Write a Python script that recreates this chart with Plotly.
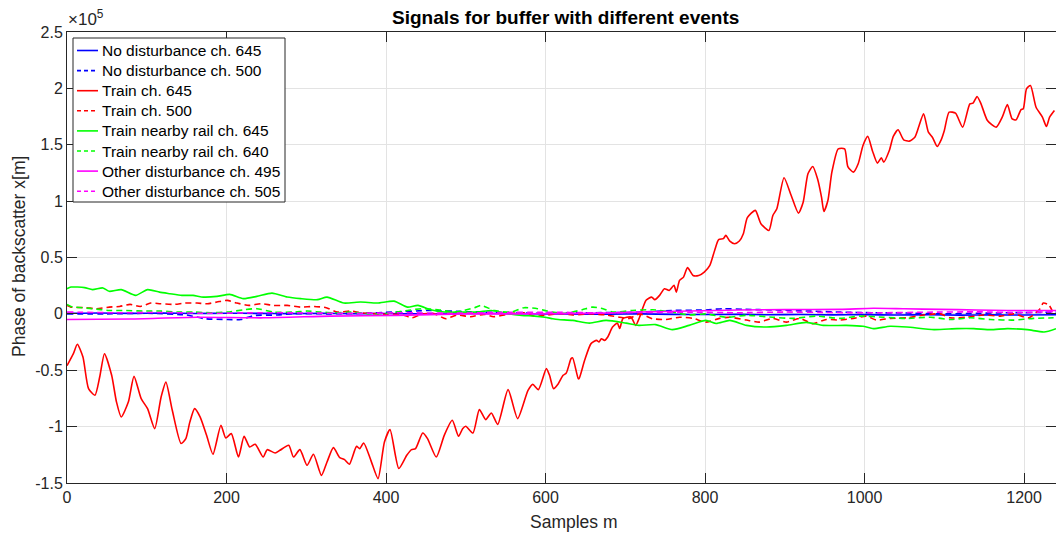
import plotly.graph_objects as go

# ---- data (values in units of 1e5) ----
nd645 = [(0, 0.005), (40, 0.008), (80, 0.004), (120, 0.007), (160, 0.003), (200, 0.006), (240, 0.004),
         (280, 0.002), (320, 0.005), (360, 0.001), (400, 0.003), (440, 0.0), (480, 0.002), (520, 0.004),
         (560, 0.001), (600, 0.0), (640, -0.003), (680, -0.002), (720, 0.0), (760, -0.004), (800, -0.006),
         (840, -0.004), (880, -0.008), (920, -0.006), (960, -0.009), (1000, -0.007), (1040, -0.01),
         (1080, -0.008), (1120, -0.011), (1160, -0.009), (1200, -0.01), (1240, -0.008)]

nd500 = [(0, 0.0), (50, 0.0), (100, 0.005), (150, -0.01), (173, -0.043), (201, -0.05), (218, -0.05),
         (234, -0.015), (264, -0.01), (285, 0.002), (330, 0.0), (370, 0.005), (410, 0.016), (452, 0.03),
         (500, 0.02), (550, 0.01), (600, 0.005), (650, 0.01), (700, 0.012), (718, 0.016), (759, 0.03),
         (801, 0.035), (822, 0.046), (850, 0.04), (885, 0.035), (930, 0.025), (969, 0.016), (1011, 0.01),
         (1050, 0.008), (1095, 0.0), (1140, 0.005), (1179, 0.01), (1210, 0.012), (1240, 0.016)]

train645 = [(0, -0.46), (8, -0.353), (13, -0.27), (20, -0.383), (27, -0.663), (35, -0.722), (41, -0.56),
            (47, -0.353), (56, -0.545), (62, -0.78), (68, -0.915), (77, -0.78), (84, -0.554), (93, -0.752),
            (101, -0.84), (110, -1.018), (118, -0.737), (124, -0.605), (132, -0.855), (143, -1.15),
            (149, -1.106), (154, -0.96), (160, -0.84), (167, -0.915), (175, -1.077), (183, -1.245),
            (193, -0.988), (199, -1.1), (206, -1.062), (215, -1.27), (222, -1.086), (229, -1.18),
            (236, -1.157), (246, -1.27), (251, -1.204), (261, -1.234), (267, -1.21), (278, -1.166),
            (284, -1.27), (292, -1.204), (301, -1.343), (309, -1.245), (319, -1.432), (326, -1.314),
            (334, -1.186), (342, -1.275), (348, -1.293), (354, -1.334), (363, -1.175), (367, -1.195),
            (372, -1.145), (381, -1.299), (390, -1.461), (398, -1.136), (405, -1.027), (416, -1.372),
            (426, -1.254), (432, -1.204), (437, -1.195), (446, -1.057), (452, -1.106), (463, -1.27),
            (473, -1.077), (483, -0.944), (491, -1.086), (496, -1.018), (500, -0.997), (509, -1.057),
            (517, -0.849), (525, -0.938), (532, -0.879), (540, -0.98), (553, -0.672), (565, -0.929),
            (578, -0.678), (584, -0.625), (591, -0.672), (601, -0.486), (605, -0.545), (610, -0.663),
            (616, -0.619), (622, -0.545), (626, -0.525), (632, -0.397), (634, -0.39), (641, -0.575),
            (642, -0.575), (649, -0.412), (657, -0.264), (664, -0.235), (667, -0.25), (670, -0.22),
            (674, -0.235), (678, -0.205), (684, -0.117), (690, -0.082), (693, -0.13), (697, -0.043),
            (707, -0.028), (713, -0.102), (718, -0.028), (726, 0.12), (733, 0.149), (737, 0.126),
            (743, 0.164), (749, 0.223), (755, 0.208), (761, 0.253), (764, 0.193), (768, 0.297),
            (773, 0.326), (778, 0.41), (785, 0.341), (792, 0.341), (799, 0.371), (806, 0.43),
            (812, 0.563), (817, 0.658), (823, 0.667), (826, 0.696), (831, 0.646), (837, 0.622),
            (843, 0.646), (848, 0.711), (853, 0.853), (863, 0.918), (870, 0.8), (880, 0.74),
            (885, 0.873), (890, 0.933), (899, 1.207), (908, 1.05), (917, 0.894), (923, 0.99),
            (929, 1.243), (935, 1.307), (941, 1.198), (946, 1.035), (949, 0.909), (954, 1.006),
            (959, 1.257), (967, 1.464), (975, 1.464), (979, 1.307), (986, 1.257), (992, 1.331),
            (998, 1.494), (1004, 1.574), (1010, 1.443), (1016, 1.337), (1021, 1.385), (1024, 1.346),
            (1031, 1.449), (1036, 1.574), (1042, 1.633), (1049, 1.544), (1056, 1.532), (1063, 1.567),
            (1068, 1.662), (1074, 1.775), (1080, 1.612), (1085, 1.567), (1091, 1.485), (1096, 1.544),
            (1100, 1.627), (1106, 1.789), (1114, 1.78), (1123, 1.656), (1132, 1.863), (1136, 1.869),
            (1141, 1.928), (1146, 1.863), (1154, 1.715), (1165, 1.656), (1173, 1.751), (1179, 1.857),
            (1185, 1.73), (1190, 1.721), (1196, 1.81), (1199, 1.819), (1203, 1.996), (1208, 2.026),
            (1215, 1.833), (1223, 1.745), (1228, 1.662), (1232, 1.745), (1238, 1.804)]

train500 = [(0, 0.075), (5, 0.06), (24, 0.055), (37, 0.046), (53, 0.06), (66, 0.066), (79, 0.084),
            (92, 0.066), (105, 0.096), (117, 0.09), (134, 0.084), (148, 0.096), (163, 0.096), (176, 0.09),
            (188, 0.105), (201, 0.12), (213, 0.096), (228, 0.075), (243, 0.09), (259, 0.075), (276, 0.075),
            (293, 0.06), (310, 0.066), (325, 0.055), (339, 0.016), (356, 0.025), (368, 0.01), (385, 0.002),
            (402, -0.004), (418, -0.004), (433, -0.034), (444, -0.004), (460, 0.002), (475, -0.043),
            (489, -0.01), (506, -0.025), (523, -0.004), (535, -0.025), (556, 0.002), (573, 0.01),
            (586, -0.02), (602, -0.01), (619, 0.002), (634, -0.01), (655, 0.0), (676, -0.01),
            (693, -0.03), (705, -0.04), (718, 0.0), (734, -0.043), (751, -0.05), (768, -0.03),
            (785, -0.04), (801, -0.073), (818, -0.04), (831, -0.03), (852, -0.055), (868, -0.073),
            (885, -0.04), (902, -0.073), (919, -0.04), (935, -0.087), (952, -0.05), (969, -0.055),
            (986, -0.04), (1002, -0.02), (1015, -0.055), (1032, -0.04), (1053, -0.035), (1074, -0.01),
            (1095, 0.0), (1107, -0.035), (1128, -0.03), (1149, -0.01), (1170, -0.02), (1187, 0.0),
            (1206, -0.035), (1220, 0.046), (1224, 0.096), (1231, 0.08), (1237, 0.0)]

rail645 = [(0, 0.223), (5, 0.238), (22, 0.233), (32, 0.215), (45, 0.23), (53, 0.2), (68, 0.215),
           (86, 0.164), (101, 0.215), (116, 0.193), (129, 0.179), (144, 0.164), (158, 0.164), (171, 0.149),
           (188, 0.155), (204, 0.173), (221, 0.135), (238, 0.155), (257, 0.184), (276, 0.149), (293, 0.135),
           (314, 0.126), (326, 0.149), (347, 0.096), (368, 0.105), (389, 0.096), (410, 0.113), (427, 0.06),
           (440, 0.075), (456, 0.037), (473, 0.016), (494, 0.016), (515, 0.016), (532, 0.03), (553, 0.002),
           (570, -0.013), (586, -0.02), (599, -0.03), (609, -0.043), (616, -0.05), (634, -0.058),
           (655, -0.082), (676, -0.058), (701, -0.082), (717, -0.102), (738, -0.095), (759, -0.14),
           (780, -0.102), (801, -0.058), (814, -0.085), (831, -0.058), (852, -0.102), (877, -0.117),
           (902, -0.102), (927, -0.075), (948, -0.102), (977, -0.102), (998, -0.11), (1011, -0.131),
           (1032, -0.11), (1053, -0.117), (1087, -0.14), (1116, -0.131), (1137, -0.131), (1158, -0.14),
           (1179, -0.131), (1204, -0.14), (1225, -0.161), (1240, -0.131)]

rail640 = [(0, 0.084), (5, 0.066), (32, 0.046), (53, 0.03), (74, 0.03), (95, 0.025), (117, 0.025),
           (138, 0.016), (159, 0.016), (180, 0.01), (201, 0.016), (222, 0.037), (238, 0.046), (259, 0.016),
           (285, 0.016), (301, 0.025), (318, 0.016), (335, 0.01), (356, 0.016), (377, 0.002), (398, 0.002),
           (427, 0.03), (444, 0.046), (465, 0.037), (486, 0.016), (511, 0.055), (519, 0.075), (536, 0.03),
           (557, 0.016), (573, 0.055), (590, 0.046), (607, 0.016), (625, 0.005), (646, 0.037), (659, 0.06),
           (672, 0.046), (684, 0.016), (709, 0.03), (734, 0.037), (759, 0.016), (780, -0.01), (801, 0.0),
           (826, -0.03), (852, -0.013), (885, -0.03), (910, -0.04), (939, -0.02), (969, -0.04),
           (994, -0.02), (1024, -0.03), (1053, -0.04), (1083, -0.03), (1108, -0.05), (1133, -0.035),
           (1158, -0.05), (1187, -0.055), (1212, -0.04), (1237, -0.035)]

other495 = [(0, -0.05), (80, -0.045), (163, -0.03), (246, -0.035), (330, -0.02), (413, -0.013),
            (497, 0.0), (560, 0.0), (620, 0.002), (680, 0.008), (718, 0.016), (780, 0.025), (843, 0.035),
            (900, 0.038), (969, 0.04), (1011, 0.05), (1050, 0.045), (1095, 0.04), (1140, 0.035),
            (1179, 0.03), (1240, 0.03)]

other505 = [(0, 0.016), (60, 0.01), (120, 0.012), (180, 0.005), (240, 0.01), (300, 0.008), (360, 0.004),
            (420, 0.01), (480, 0.006), (540, 0.012), (600, 0.015), (660, 0.01), (720, 0.012), (780, 0.015),
            (840, 0.01), (900, 0.016), (960, 0.012), (1020, 0.01), (1080, 0.015), (1140, 0.018),
            (1200, 0.012), (1240, 0.02)]

y_tickvals = [-1.5, -1, -0.5, 0, 0.5, 1, 1.5, 2, 2.5]
y_ticktext = ["-1.5", "-1", "-0.5", "0", "0.5", "1", "1.5", "2", "2.5"]
x_tickvals = [0, 200, 400, 600, 800, 1000, 1200]

series = [
    ("No disturbance ch. 645", nd645, "#0000ff", "solid"),
    ("No disturbance ch. 500", nd500, "#0000ff", "dash"),
    ("Train ch. 645", train645, "#ff0000", "solid"),
    ("Train ch. 500", train500, "#ff0000", "dash"),
    ("Train nearby rail ch. 645", rail645, "#00ff00", "solid"),
    ("Train nearby rail ch. 640", rail640, "#00ff00", "dash"),
    ("Other disturbance ch. 495", other495, "#ff00ff", "solid"),
    ("Other disturbance ch. 505", other505, "#ff00ff", "dash"),
]

W, H = 1056, 536
ML, MR, MT, MB = 67, 0, 32, 53
PW, PH = W - ML - MR, H - MT - MB


def px_x(p):
    return (p - ML) / PW


def px_y(p):
    return 1 - (p - MT) / PH


FONT = "Liberation Sans, Arial, Helvetica, sans-serif"
DASH = "6px,4px"
fig = go.Figure()
for name, pts, color, dash in series:
    xs = [p[0] for p in pts]
    ys = [p[1] for p in pts]
    fig.add_trace(go.Scatter(x=xs, y=ys, mode="lines", name=name, showlegend=False,
                             line=dict(color=color, width=1.6, dash=DASH if dash == "dash" else "solid",
                                       shape="spline", smoothing=0.6)))

# legend box (drawn as shapes + text so the row spacing matches)
shapes = [dict(type="rect", xref="paper", yref="paper", layer="above",
               x0=px_x(73), x1=px_x(285), y0=px_y(38), y1=px_y(202),
               fillcolor="white", line=dict(color="#262626", width=1))]
annotations = []
for i, (name, pts, color, dash) in enumerate(series):
    cy = 50.5 + 20.1 * i
    shapes.append(dict(type="line", xref="paper", yref="paper", layer="above",
                       x0=px_x(77), x1=px_x(98), y0=px_y(cy), y1=px_y(cy),
                       line=dict(color=color, width=1.6, dash="4px,3px" if dash == "dash" else "solid")))
    annotations.append(dict(text=name, xref="paper", yref="paper", x=px_x(99.5), y=px_y(cy),
                            xanchor="left", yanchor="middle", showarrow=False,
                            font=dict(family=FONT, size=15.5, color="#000000")))

annotations += [
    dict(text="<b>Signals for buffer with different events</b>", xref="paper", yref="paper",
         x=px_x(565), y=px_y(17), xanchor="center", yanchor="middle", showarrow=False,
         font=dict(family=FONT, size=19, color="#000000")),
    dict(text="Samples m", xref="paper", yref="paper", x=px_x(574), y=px_y(522),
         xanchor="center", yanchor="middle", showarrow=False,
         font=dict(family=FONT, size=17.5, color="#262626")),
    dict(text="Phase of backscatter x[m]", xref="paper", yref="paper", x=px_x(19), y=px_y(257),
         xanchor="center", yanchor="middle", textangle=-90, showarrow=False,
         font=dict(family=FONT, size=17.5, color="#262626")),
    dict(text="×10<sup>5</sup>", xref="paper", yref="paper", x=px_x(66), y=px_y(31),
         xanchor="left", yanchor="bottom", showarrow=False,
         font=dict(family=FONT, size=17, color="#262626")),
]

axis_common = dict(showline=True, linecolor="#262626", linewidth=1, mirror="ticks",
                   ticks="inside", ticklen=10, tickcolor="#262626", tickwidth=1,
                   showgrid=True, gridcolor="#e3e3e3", gridwidth=1, zeroline=False,
                   tickfont=dict(family=FONT, size=16, color="#262626"))

fig.update_layout(
    width=W, height=H,
    margin=dict(l=ML, r=MR, t=MT, b=MB, autoexpand=False),
    paper_bgcolor="white", plot_bgcolor="white",
    font=dict(family=FONT, color="#262626"),
    showlegend=False,
    xaxis=dict(range=[0, 1240], tickvals=x_tickvals, automargin=False, **axis_common),
    yaxis=dict(range=[-1.5, 2.5], tickvals=y_tickvals, ticktext=y_ticktext, automargin=False, **axis_common),
    shapes=shapes,
    annotations=annotations,
)

fig.write_html("out.html", config={"displayModeBar": False},
               post_script="document.body.style.margin='0';document.body.style.overflow='hidden';")
